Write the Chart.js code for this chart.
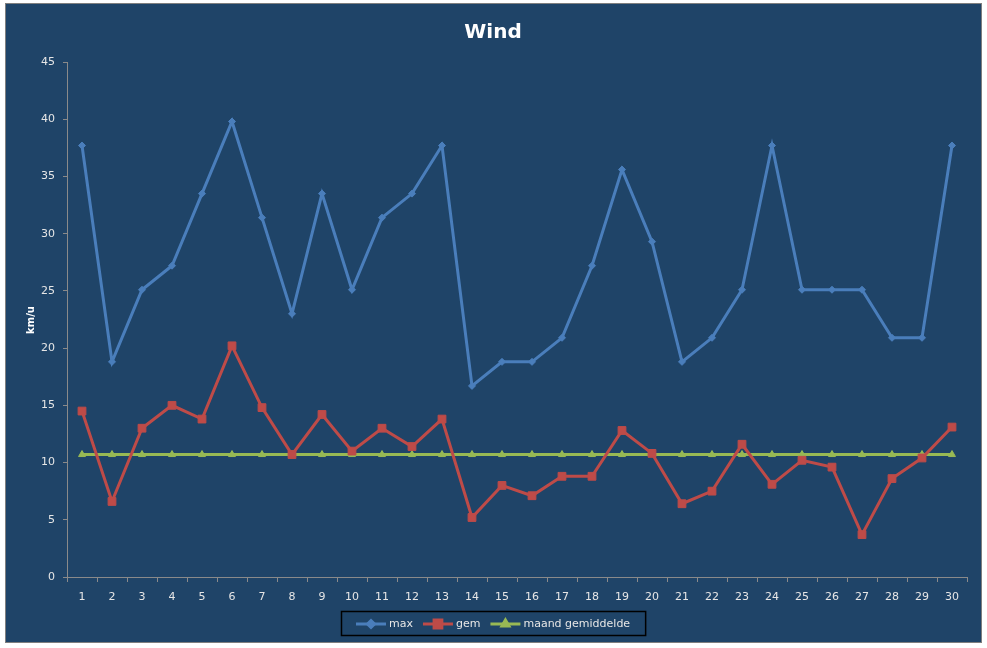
<!DOCTYPE html>
<html>
<head>
<meta charset="utf-8">
<style>
  html, body { margin: 0; padding: 0; background: #ffffff; }
  #wrap { width: 987px; height: 648px; position: relative; }
</style>
<script src="https://cdn.jsdelivr.net/npm/chart.js@4/dist/chart.umd.min.js"></script>
</head>
<body>
<div id="wrap"><canvas id="windChart"></canvas></div>
<script>
// Wind data (km/u) per day of the month
const days = ['1','2','3','4','5','6','7','8','9','10','11','12','13','14','15',
              '16','17','18','19','20','21','22','23','24','25','26','27','28','29','30'];
const maxWind = [37.7, 18.8, 25.1, 27.2, 33.5, 39.8, 31.4, 23.0, 33.5, 25.1,
                 31.4, 33.5, 37.7, 16.7, 18.8, 18.8, 20.9, 27.2, 35.6, 29.3,
                 18.8, 20.9, 25.1, 37.7, 25.1, 25.1, 25.1, 20.9, 20.9, 37.7];
const avgWind = [14.5, 6.6, 13.0, 15.0, 13.8, 20.2, 14.8, 10.7, 14.2, 11.0,
                 13.0, 11.4, 13.8, 5.2, 8.0, 7.1, 8.8, 8.8, 12.8, 10.8,
                 6.4, 7.5, 11.6, 8.1, 10.2, 9.6, 3.7, 8.6, 10.4, 13.1];
const monthAvg = [10.7, 10.7, 10.7, 10.7, 10.7, 10.7, 10.7, 10.7, 10.7, 10.7,
                  10.7, 10.7, 10.7, 10.7, 10.7, 10.7, 10.7, 10.7, 10.7, 10.7,
                  10.7, 10.7, 10.7, 10.7, 10.7, 10.7, 10.7, 10.7, 10.7, 10.7];
const yTicks = [0, 5, 10, 15, 20, 25, 30, 35, 40, 45];

const BG = '#1f4468';
const AXIS = '#8a8a8a';
const TEXT = '#e6e6e6';
const FONT = '"DejaVu Sans", Verdana, sans-serif';

// Frame, title, axis title and boxed legend drawn around the chart
const excelFrame = {
    id: 'excelFrame',
    beforeDraw(chart) {
        const ctx = chart.ctx;
        ctx.save();
        ctx.fillStyle = '#ffffff';
        ctx.fillRect(0, 0, chart.width, chart.height);
        ctx.fillStyle = BG;
        ctx.fillRect(5, 3, 977, 640);
        ctx.strokeStyle = '#7f7f7f';
        ctx.lineWidth = 1;
        ctx.strokeRect(5.5, 3.5, 976, 639);
        ctx.restore();
    },
    afterDraw(chart) {
        const ctx = chart.ctx;
        ctx.save();
        // title
        ctx.fillStyle = '#ffffff';
        ctx.font = 'bold 20px ' + FONT;
        ctx.textAlign = 'center';
        ctx.textBaseline = 'middle';
        ctx.fillText('Wind', 493, 33);
        // y axis title
        ctx.save();
        ctx.translate(31, 320);
        ctx.rotate(-Math.PI / 2);
        ctx.font = 'bold 10px ' + FONT;
        ctx.fillText('km/u', 0, 0);
        ctx.restore();

        // legend
        ctx.font = '11px ' + FONT;
        ctx.textAlign = 'left';
        const items = chart.data.datasets;
        const lineLen = 30, gap = 3, itemGap = 10;
        let total = 0;
        const widths = items.map(d => {
            const w = lineLen + gap + ctx.measureText(d.label).width;
            total += w;
            return w;
        });
        total += itemGap * (items.length - 1);
        const boxW = total + 30, boxH = 24;
        const boxX = Math.round(493 - boxW / 2), boxY = 611;
        ctx.strokeStyle = '#000000';
        ctx.lineWidth = 1.5;
        ctx.strokeRect(boxX + 0.5, boxY + 0.5, boxW, boxH);
        let x = boxX + 15;
        const y = boxY + boxH / 2 + 1;
        items.forEach((d, i) => {
            ctx.strokeStyle = d.borderColor;
            ctx.lineWidth = d.borderWidth;
            ctx.beginPath();
            ctx.moveTo(x, y);
            ctx.lineTo(x + lineLen, y);
            ctx.stroke();
            Chart.helpers.drawPoint(ctx, {
                pointStyle: d.pointStyle,
                radius: d.pointRadius,
                rotation: 0,
                borderWidth: 1
            }, x + lineLen / 2, y);
            ctx.fillStyle = d.borderColor;
            ctx.fill();
            ctx.fillStyle = TEXT;
            ctx.fillText(d.label, x + lineLen + gap, y);
            x += widths[i] + itemGap;
        });
        ctx.restore();
    }
};

function series(label, data, color, style, radius) {
    return {
        label: label,
        data: data,
        borderColor: color,
        backgroundColor: color,
        pointBackgroundColor: color,
        pointBorderColor: color,
        borderWidth: 3,
        pointBorderWidth: 1,
        pointStyle: style,
        pointRadius: radius,
        pointHoverRadius: radius,
        tension: 0
    };
}

document.addEventListener('DOMContentLoaded', () => {
    const ctx = document.getElementById('windChart').getContext('2d');
    new Chart(ctx, {
        type: 'line',
        data: {
            labels: days,
            datasets: [
                series('max', maxWind, '#4a7ebb', 'rectRot', 3.5),
                series('gem', avgWind, '#be4b48', 'rect', 5.5),
                series('maand gemiddelde', monthAvg, '#98b954', 'triangle', 4)
            ]
        },
        options: {
            responsive: true,
            maintainAspectRatio: false,
            animation: false,
            layout: { padding: { left: 5, right: 20, top: 62, bottom: 40 } },
            plugins: {
                legend: { display: false },
                title: { display: false },
                tooltip: { enabled: false }
            },
            scales: {
                x: {
                    offset: true,
                    afterFit: s => { s.height = 31; },
                    border: { color: AXIS, width: 1 },
                    grid: {
                        offset: true,
                        drawOnChartArea: false,
                        drawTicks: true,
                        tickLength: 5,
                        tickColor: AXIS
                    },
                    ticks: {
                        color: TEXT,
                        font: { family: FONT, size: 11 },
                        padding: 9,
                        maxRotation: 0,
                        autoSkip: false
                    }
                },
                y: {
                    min: 0,
                    max: 45,
                    afterFit: s => { s.width = 62; },
                    afterBuildTicks: s => { s.ticks = yTicks.map(v => ({ value: v })); },
                    border: { color: AXIS, width: 1 },
                    grid: {
                        drawOnChartArea: false,
                        drawTicks: true,
                        tickLength: 4,
                        tickColor: AXIS
                    },
                    ticks: {
                        color: TEXT,
                        font: { family: FONT, size: 11 },
                        padding: 8
                    }
                }
            }
        },
        plugins: [excelFrame]
    });
});
</script>
</body>
</html>
